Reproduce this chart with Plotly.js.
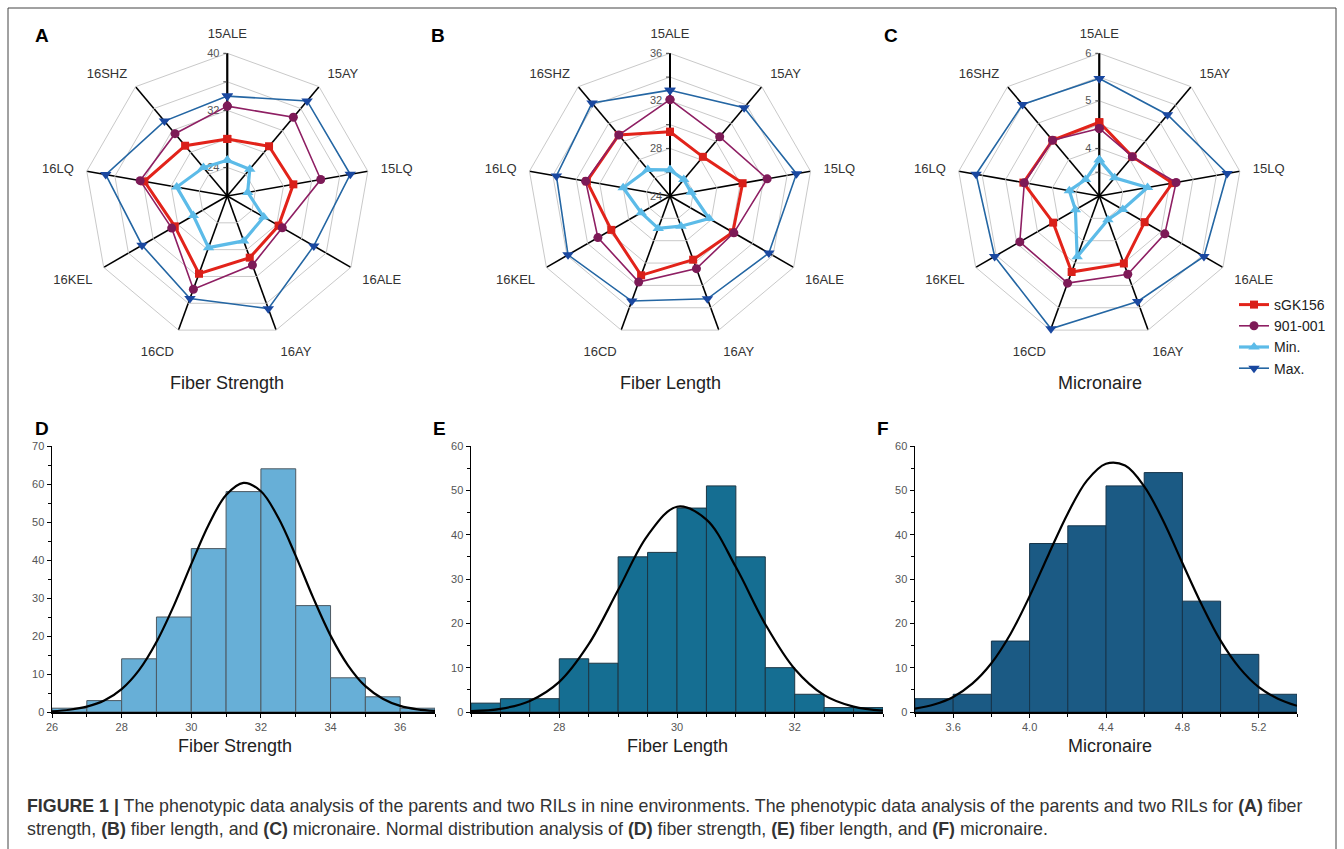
<!DOCTYPE html>
<html>
<head>
<meta charset="utf-8">
<script src="https://cdn.plot.ly/plotly-3.0.1.min.js"></script>
<style>
html,body{margin:0;padding:0;background:#fff;}
#chart{width:1344px;height:849px;}
</style>
</head>
<body>
<div id="chart"></div>
<script>
// ---------- DATA ----------
const environments = ['15ALE','15AY','15LQ','16ALE','16AY','16CD','16KEL','16LQ','16SHZ'];
const seriesNames = ['sGK156','901-001','Min.','Max.'];

const strengthSGK156 = [28.0, 29.1, 29.4, 28.3, 29.2, 31.6, 28.5, 31.8, 29.2];
const strength901 = [32.6, 34.4, 33.3, 28.9, 30.3, 33.9, 29.0, 32.4, 31.4];
const strengthMin = [25.0, 24.9, 22.9, 25.9, 26.7, 27.7, 25.5, 27.2, 25.2];
const strengthMax = [34.0, 37.4, 37.5, 34.0, 36.8, 35.3, 33.8, 37.3, 33.7];

const lengthSGK156 = [29.4, 28.3, 30.2, 30.1, 29.7, 31.1, 29.7, 31.1, 30.7];
const length901 = [32.1, 30.5, 32.3, 30.2, 30.5, 31.7, 31.0, 31.2, 30.7];
const lengthMin = [26.2, 25.8, 25.8, 27.8, 26.7, 26.9, 26.8, 28.0, 26.9];
const lengthMax = [32.9, 33.7, 34.8, 33.6, 33.2, 33.4, 33.9, 33.7, 34.2];

const micSGK156 = [4.55, 4.08, 4.56, 4.10, 4.51, 4.70, 4.12, 4.62, 4.53];
const mic901 = [4.42, 4.08, 4.64, 4.59, 4.75, 4.95, 4.93, 4.60, 4.53];
const micMin = [3.76, 3.50, 4.03, 3.57, 3.53, 4.36, 3.58, 3.64, 3.45];
const micMax = [5.47, 5.23, 5.73, 5.54, 5.36, 5.97, 5.54, 5.63, 5.51];

// radial tick values and labels
const strengthTicks = [24, 28, 32, 36, 40];
const strengthTickText = ['24', '', '32', '', '40'];
const lengthTicks = [24, 26, 28, 30, 32, 34, 36];
const lengthTickText = ['24', '', '28', '', '32', '', '36'];
const micTicks = [3.5, 4, 4.5, 5, 5.5, 6];
const micTickText = ['', '4', '', '5', '', '6'];

// histograms (bin left edges and counts)
const strengthBins = [26, 27, 28, 29, 30, 31, 32, 33, 34, 35, 36];
const strengthCounts = [1, 3, 14, 25, 43, 58, 64, 28, 9, 4, 1];
const strengthCurveX = [26, 26.5, 27, 27.5, 28, 28.5, 29, 29.5, 30, 30.5, 31, 31.5, 32, 32.5, 33, 33.5, 34, 34.5, 35, 35.5, 36, 36.5, 37];
const strengthCurveY = [0.2, 0.6, 1.4, 3.0, 6.0, 11.0, 18.4, 28.0, 38.9, 49.3, 57.1, 60.3, 58.1, 51.1, 41.1, 30.1, 20.1, 12.3, 6.8, 3.5, 1.6, 0.7, 0.3];

const lengthBins = [26.5, 27, 27.5, 28, 28.5, 29, 29.5, 30, 30.5, 31, 31.5, 32, 32.5, 33];
const lengthCounts = [2, 3, 3, 12, 11, 35, 36, 46, 51, 35, 10, 4, 1, 1];
const lengthCurveX = [26.5, 27, 27.5, 28, 28.5, 29, 29.5, 30, 30.5, 31, 31.5, 32, 32.5, 33, 33.5];
const lengthCurveY = [0.2, 0.7, 2.5, 6.8, 15.3, 27.5, 39.8, 46.3, 43.4, 32.7, 19.8, 9.7, 3.8, 1.2, 0.3];

const micBins = [3.4, 3.6, 3.8, 4.0, 4.2, 4.4, 4.6, 4.8, 5.0, 5.2];
const micCounts = [3, 4, 16, 38, 42, 51, 54, 25, 13, 4];
const micCurveX = [3.4, 3.5, 3.6, 3.7, 3.8, 3.9, 4.0, 4.1, 4.2, 4.3, 4.4, 4.5, 4.6, 4.7, 4.8, 4.9, 5.0, 5.1, 5.2, 5.3, 5.4];
const micCurveY = [0.75, 1.7, 3.4, 6.4, 11.0, 17.6, 26.1, 35.6, 44.8, 52.2, 56.0, 55.6, 50.9, 43.1, 33.6, 24.3, 16.1, 9.9, 5.6, 3.0, 1.4];

const panelTitles = ['Fiber Strength', 'Fiber Length', 'Micronaire'];
const panelLetters = ['A', 'B', 'C', 'D', 'E', 'F'];
const caption = '<b>FIGURE 1 |</b> The phenotypic data analysis of the parents and two RILs in nine environments. The phenotypic data analysis of the parents and two RILs for <b>(A)</b> fiber<br>strength, <b>(B)</b> fiber length, and <b>(C)</b> micronaire. Normal distribution analysis of <b>(D)</b> fiber strength, <b>(E)</b> fiber length, and <b>(F)</b> micronaire.';

// ---------- STYLES ----------
const W = 1344, H = 849;
const px = v => v / W;
const py = v => 1 - v / H;
const FONT = 'Liberation Sans, Arial, sans-serif';

const styles = [
  {line: {color: '#e2231a', width: 3}, marker: {symbol: 'square', size: 8, color: '#d9201a'}},
  {line: {color: '#8e1f63', width: 1.6}, marker: {symbol: 'circle', size: 9, color: '#7d1a57'}},
  {line: {color: '#5cbbe8', width: 3.2}, marker: {symbol: 'triangle-up', size: 10, color: '#5cbbe8'}},
  {line: {color: '#2466a3', width: 1.6}, marker: {symbol: 'triangle-down', size: 10, color: '#1a48a0'}}
];

const close = arr => arr.concat([arr[0]]);
const thetaClosed = close(environments);

const traces = [];
const radarSets = [
  [strengthSGK156, strength901, strengthMin, strengthMax],
  [lengthSGK156, length901, lengthMin, lengthMax],
  [micSGK156, mic901, micMin, micMax]
];
radarSets.forEach((set, pi) => {
  set.forEach((vals, si) => {
    traces.push({
      type: 'scatterpolar',
      mode: 'lines+markers',
      r: close(vals),
      theta: thetaClosed,
      name: seriesNames[si],
      subplot: pi === 0 ? 'polar' : 'polar' + (pi + 1),
      line: styles[si].line,
      marker: styles[si].marker,
      showlegend: pi === 2,
      cliponaxis: false,
      hoverinfo: 'skip'
    });
  });
});

// histogram bars
const histSets = [
  {bins: strengthBins, counts: strengthCounts, w: 1, cx: strengthCurveX, cy: strengthCurveY, color: '#67afd7', edge: '#4d5a63'},
  {bins: lengthBins, counts: lengthCounts, w: 0.5, cx: lengthCurveX, cy: lengthCurveY, color: '#156e92', edge: '#1c3644'},
  {bins: micBins, counts: micCounts, w: 0.2, cx: micCurveX, cy: micCurveY, color: '#1b5a84', edge: '#16344a'}
];
histSets.forEach((h, i) => {
  const ax = i === 0 ? '' : String(i + 1);
  traces.push({
    type: 'bar',
    x: h.bins.map(b => b + h.w / 2),
    y: h.counts,
    width: h.w,
    xaxis: 'x' + ax, yaxis: 'y' + ax,
    marker: {color: h.color, line: {color: h.edge, width: 1}},
    showlegend: false, hoverinfo: 'skip'
  });
  traces.push({
    type: 'scatter', mode: 'lines',
    x: h.cx, y: h.cy,
    xaxis: 'x' + ax, yaxis: 'y' + ax,
    line: {color: '#000', width: 2.2, shape: 'spline'},
    showlegend: false, hoverinfo: 'skip', cliponaxis: false
  });
});

// ---------- LAYOUT ----------
const R = 142.7, CY = 196;
const centersX = [227.3, 670, 1099.3];
const radialRanges = [[20, 40], [24, 36], [3, 6]];
const radialTicks = [[strengthTicks, strengthTickText], [lengthTicks, lengthTickText], [micTicks, micTickText]];

function polarLayout(i) {
  const cx = centersX[i];
  return {
    domain: {x: [px(cx - R), px(cx + R)], y: [py(CY + R), py(CY - R)]},
    gridshape: 'linear',
    bgcolor: 'rgba(0,0,0,0)',
    radialaxis: {
      range: radialRanges[i],
      tickvals: radialTicks[i][0],
      ticktext: radialTicks[i][1],
      angle: 90,
      tickangle: 90,
      side: 'counterclockwise',
      showline: true, linecolor: '#000', linewidth: 2,
      gridcolor: '#c9c9c9', gridwidth: 1,
      ticks: 'outside', ticklen: 3, tickcolor: '#444',
      tickfont: {family: FONT, size: 11, color: '#555'},
      layer: 'below traces'
    },
    angularaxis: {
      type: 'category',
      categoryarray: environments,
      direction: 'clockwise',
      rotation: 90,
      showline: true, linecolor: '#c9c9c9', linewidth: 1,
      gridcolor: '#000', gridwidth: 1.6,
      ticks: 'outside', ticklen: 10, tickcolor: 'rgba(0,0,0,0)',
      tickfont: {family: FONT, size: 13, color: '#333'},
      layer: 'below traces'
    }
  };
}

const histDomainsX = [[52, 435], [471, 883], [915, 1297]];
const histXRanges = [[26, 37], [26.5, 33.5], [3.4, 5.4]];
const histYRanges = [[0, 70], [0, 60], [0, 60]];
const histXTicks = [[26, 28, 30, 32, 34, 36], [28, 30, 32], [3.6, 4.0, 4.4, 4.8, 5.2]];
const histXTickText = [['26', '28', '30', '32', '34', '36'], ['28', '30', '32'], ['3.6', '4.0', '4.4', '4.8', '5.2']];
const histXMinor = [1, 0.5, 0.2];

const layout = {
  width: W, height: H,
  margin: {l: 0, r: 0, t: 0, b: 0},
  paper_bgcolor: '#fff', plot_bgcolor: 'rgba(0,0,0,0)',
  font: {family: FONT, color: '#333'},
  showlegend: true,
  bargap: 0,
  legend: {
    x: px(1234), y: py(289), xanchor: 'left', yanchor: 'top',
    bgcolor: 'rgba(0,0,0,0)', font: {family: FONT, size: 14, color: '#222'},
    itemwidth: 30, tracegroupgap: 0
  },
  polar: polarLayout(0), polar2: polarLayout(1), polar3: polarLayout(2),
  annotations: [], shapes: []
};

histDomainsX.forEach((d, i) => {
  const ax = i === 0 ? '' : String(i + 1);
  layout['xaxis' + ax] = {
    domain: [px(d[0]), px(d[1])],
    anchor: 'y' + ax,
    range: histXRanges[i],
    tickvals: histXTicks[i], ticktext: histXTickText[i],
    showline: true, linecolor: '#000', linewidth: 1.5,
    ticks: 'outside', ticklen: 4, tickcolor: '#000', tickwidth: 1,
    minor: {dtick: histXMinor[i], tick0: histXRanges[i][0], ticks: 'outside', ticklen: 3, tickcolor: '#000'},
    showgrid: false, zeroline: false,
    tickfont: {family: FONT, size: 11, color: '#555'},
    fixedrange: true
  };
  layout['yaxis' + ax] = {
    domain: [py(712), py(446)],
    anchor: 'x' + ax,
    range: histYRanges[i],
    dtick: 10,
    showline: true, linecolor: '#000', linewidth: 1.5,
    ticks: 'outside', ticklen: 4, tickcolor: '#000', tickwidth: 1,
    minor: {dtick: 5, ticks: 'outside', ticklen: 2.5, tickcolor: '#000'},
    showgrid: false, zeroline: false,
    tickfont: {family: FONT, size: 11, color: '#555'},
    fixedrange: true
  };
});

// titles
const radarTitleX = [227, 670, 1100];
const histTitleX = [235, 677, 1110];
panelTitles.forEach((t, i) => {
  layout.annotations.push({text: t, x: px(radarTitleX[i]), y: py(383), xref: 'paper', yref: 'paper',
    showarrow: false, xanchor: 'center', yanchor: 'middle', font: {family: FONT, size: 18, color: '#222'}});
  layout.annotations.push({text: t, x: px(histTitleX[i]), y: py(746), xref: 'paper', yref: 'paper',
    showarrow: false, xanchor: 'center', yanchor: 'middle', font: {family: FONT, size: 18, color: '#222'}});
});

// panel letters
const letterPos = [[42, 36], [438, 36], [891, 36], [42, 428], [439, 428], [883, 428]];
panelLetters.forEach((l, i) => {
  layout.annotations.push({text: '<b>' + l + '</b>', x: px(letterPos[i][0]), y: py(letterPos[i][1]),
    xref: 'paper', yref: 'paper', showarrow: false, xanchor: 'center', yanchor: 'middle',
    font: {family: FONT, size: 19, color: '#000'}});
});

// caption
layout.annotations.push({text: caption, x: px(25), y: py(817), xref: 'paper', yref: 'paper',
  showarrow: false, xanchor: 'left', yanchor: 'middle', align: 'left',
  font: {family: FONT, size: 17.8, color: '#333'}});

// border
layout.shapes.push({type: 'rect', xref: 'paper', yref: 'paper', x0: px(8), x1: px(1336), y0: -0.05, y1: py(8),
  line: {color: '#444', width: 1}, fillcolor: 'rgba(0,0,0,0)', layer: 'below'});

Plotly.newPlot('chart', traces, layout, {staticPlot: true, displayModeBar: false});
</script>
</body>
</html>
